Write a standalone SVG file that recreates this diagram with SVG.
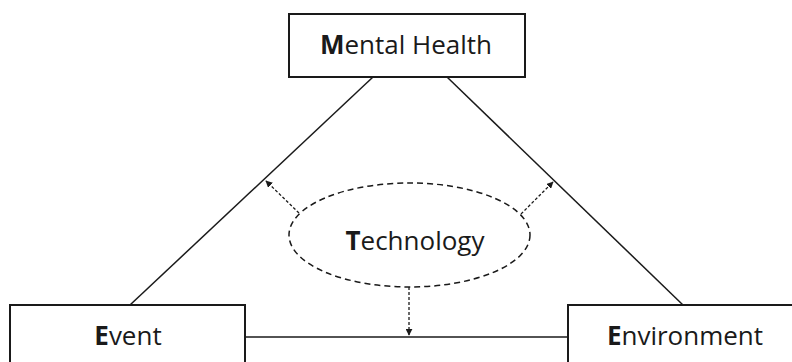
<svg xmlns="http://www.w3.org/2000/svg" width="792" height="362" viewBox="0 0 792 362">
<style>
.box{fill:#fff;stroke:#1a1a1a;stroke-width:2}
.lbl{font-family:"Open Sans","Liberation Sans",sans-serif;font-size:26px;fill:#1a1a1a;text-anchor:middle}
.b{font-weight:bold}
.line{stroke:#1a1a1a;stroke-width:1.5;fill:none}
.dash{stroke:#1a1a1a;stroke-width:1.5;fill:none;stroke-dasharray:6 4}
.dar{stroke:#1a1a1a;stroke-width:1.3;fill:none;stroke-dasharray:3 2}
</style>
<defs>
<marker id="ah" viewBox="0 0 10 10" refX="9" refY="5" markerWidth="7" markerHeight="7" markerUnits="userSpaceOnUse" orient="auto">
<path d="M0,0 L10,5 L0,10 z" fill="#1a1a1a"/>
</marker>
</defs>
<rect width="792" height="362" fill="#fff"/>
<g id="connectors">
<line class="line" x1="373" y1="77" x2="130" y2="305"/>
<line class="line" x1="447" y1="77" x2="683" y2="305"/>
<line class="line" x1="245" y1="337" x2="568" y2="337"/>
<line class="dar" x1="299" y1="213" x2="266" y2="181" marker-end="url(#ah)"/>
<line class="dar" x1="521" y1="214" x2="553" y2="182" marker-end="url(#ah)"/>
<line class="dar" x1="409" y1="287" x2="409" y2="335" marker-end="url(#ah)"/>
</g>
<g id="mental-health">
<rect class="box" x="289" y="14" width="236" height="63"/>
<text class="lbl" x="406" y="54"><tspan class="b">M</tspan>ental Health</text>
</g>
<g id="technology">
<ellipse class="dash" cx="409.5" cy="235" rx="120.5" ry="52"/>
<text class="lbl" x="415" y="250"><tspan class="b">T</tspan>echnology</text>
</g>
<g id="event">
<rect class="box" x="10" y="305" width="235" height="70"/>
<text class="lbl" x="128" y="345"><tspan class="b">E</tspan>vent</text>
</g>
<g id="environment">
<rect class="box" x="568" y="305" width="240" height="70"/>
<text class="lbl" x="685" y="345"><tspan class="b">E</tspan>nvironment</text>
</g>
</svg>
